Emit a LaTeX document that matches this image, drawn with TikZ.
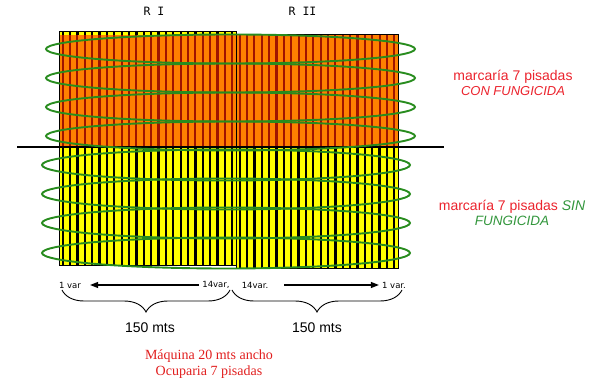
\documentclass[tikz,border=0pt]{standalone}
\usepackage{fontspec}
\setmainfont{Liberation Sans}
\newfontfamily\serifr{Liberation Serif}
\newfontfamily\djv{DejaVu Sans}
\newfontfamily\djvm{DejaVu Sans Mono}
\usetikzlibrary{decorations.pathreplacing,arrows.meta}
\definecolor{orng}{RGB}{255,128,0}
\definecolor{dred}{RGB}{160,20,0}
\definecolor{yel}{RGB}{255,255,0}
\definecolor{grn}{RGB}{40,140,30}
\definecolor{txtred}{RGB}{235,35,45}
\definecolor{txtgrn}{RGB}{50,150,60}
\definecolor{mred}{RGB}{225,30,30}
\begin{document}
\begin{tikzpicture}[x=1pt,y=-1pt,
  oval/.style={draw=grn,line width=1.9pt},
  blockedge/.style={draw=black,line width=0.8pt},
  replabel/.style={font=\djvm\fontsize{11.5}{12}\selectfont},
  varlabel/.style={font=\djv\fontsize{8.5}{10}\selectfont,inner sep=1pt},
  bigtxt/.style={font=\fontsize{14}{16}\selectfont,align=center},
  bracestyle/.style={decorate,decoration={brace,mirror,amplitude=22pt},line width=0.9pt},
  arr/.style={line width=1.2pt,-{Triangle[length=8pt,width=6pt]}}]
\useasboundingbox (0,0) rectangle (590,382);
% ---- block R I
\fill[yel] (59,31) rectangle (236,265);
\foreach \i in {0,...,23}{
  \fill[black] (59+\i*7.375+2.5,31) rectangle (59+\i*7.375+4.8,265);
}
\fill[orng] (59,35) rectangle (236,147);
\foreach \i in {0,...,23}{
  \fill[dred] (59+\i*7.375+2.6,35) rectangle (59+\i*7.375+4.7,147);
}
% ---- block R II
\fill[yel] (236,34) rectangle (398,268);
\foreach \i in {0,...,21}{
  \fill[black] (236+\i*7.364+2.5,34) rectangle (236+\i*7.364+4.8,268);
}
\fill[orng] (236,34) rectangle (398,147);
\foreach \i in {0,...,21}{
  \fill[dred] (236+\i*7.364+2.6,34) rectangle (236+\i*7.364+4.7,147);
}
\draw[blockedge] (59,31) rectangle (236,265);
\draw[blockedge] (236,34) rectangle (398,268);
% ---- divider
\draw[line width=1.3pt] (17,147) -- (444,147);
% ---- ellipses
\foreach \cy in {49,78,107,136}{
  \draw[oval] (230.5,\cy) ellipse [x radius=184.5pt, y radius=14.5pt];
}
\foreach \cy in {165,194,223,253}{
  \draw[oval] (226,\cy) ellipse [x radius=184pt, y radius=15.5pt];
}
% ---- labels
\node[replabel] (r1) at (154,11.5) {R I};
\node[replabel] (r2) at (302.5,11.5) {R II};
\node[bigtxt,text=txtred] (con) at (513,83) {marcaría 7 pisadas\\[-1pt]{\fontsize{13}{14}\selectfont\itshape CON FUNGICIDA}};
\node[bigtxt] (sin) at (512,213) {\textcolor{txtred}{marcaría 7 pisadas} \textcolor{txtgrn}{\itshape SIN}\\[-1pt]\textcolor{txtgrn}{\fontsize{13.5}{14}\selectfont\itshape FUNGICIDA}};
% ---- variety labels and arrows
\node[varlabel] (v1a) at (70,285) {1 var};
\node[varlabel] (n14a) at (216,285) {14var,};
\node[varlabel] (n14b) at (255,285) {14var.};
\node[varlabel] (v1b) at (394,285) {1 var.};
\draw[arr] ([xshift=-2pt]n14a.west) -- ([xshift=8pt]v1a.east);
\draw[arr] ([xshift=15pt]n14b.east) -- ([xshift=-2pt]v1b.west);
% ---- braces
\coordinate (b1s) at (62,290);
\coordinate (b1e) at (230,290);
\coordinate (b2s) at (232,290);
\coordinate (b2e) at (402,290);
\draw[bracestyle] (b1s) -- (b1e);
\draw[bracestyle] (b2s) -- (b2e);
\node[bigtxt] (m1) at (150,328) {150 mts};
\node[bigtxt] (m2) at (317,328) {150 mts};
\node[bigtxt,font=\serifr\fontsize{14}{16}\selectfont,text=mred] (maq) at (209,364) {Máquina 20 mts ancho\\Ocuparia 7 pisadas};
\end{tikzpicture}
\end{document}
